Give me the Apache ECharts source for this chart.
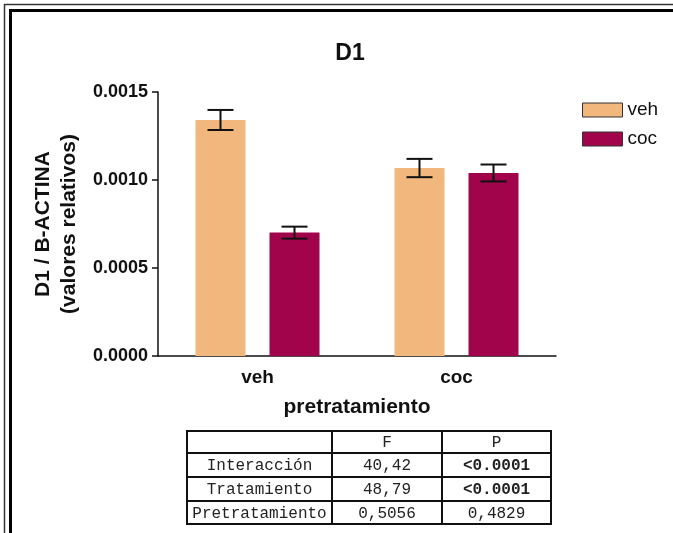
<!DOCTYPE html>
<html>
<head>
<meta charset="utf-8">
<script src="https://cdn.jsdelivr.net/npm/echarts@6/dist/echarts.min.js"></script>
<style>
  html, body { margin: 0; padding: 0; background: #fff; }
  #chart { width: 673px; height: 533px; }
</style>
</head>
<body>
<div id="chart"></div>
<script>
// Pretreatment groups on the x axis
const categories = ['veh', 'coc'];
// D1 / B-ACTINA relative expression (mean) and SEM per treatment
const vehMean = [0.001341, 0.001068];
const vehSem  = [0.000057, 0.000052];
const cocMean = [0.000701, 0.001040];
const cocSem  = [0.000034, 0.000048];
// y axis ticks
const yTicks = [0.0000, 0.0005, 0.0010, 0.0015];
// Two-way ANOVA summary table
const tableHeader = ['', 'F', 'P'];
const tableRows = ['Interacción', 'Tratamiento', 'Pretratamiento'];
const tableF = ['40,42', '48,79', '0,5056'];
const tableP = ['<0.0001', '<0.0001', '0,4829'];
const tablePBold = [true, true, false];

const colVeh = '#F1B77C';
const colCoc = '#A1044B';
const font = '"Liberation Sans", Arial, sans-serif';
const mono = '"Liberation Mono", "Courier New", monospace';

// bar layout (fractions of the category band)
const barWidthFrac = 0.2513;
const barGapFrac = 0.48;
const halfPair = barWidthFrac * (1 + barGapFrac) / 2;

function errorSeries(name, means, sems, sign) {
  return {
    name: name,
    type: 'custom',
    z: 10,
    silent: true,
    data: means.map((m, i) => [i, m, sems[i]]),
    renderItem: function (params, api) {
      const idx = api.value(0);
      const m = api.value(1);
      const s = api.value(2);
      const band = api.size([1, 0])[0];
      const dx = sign * halfPair * band;
      const top = api.coord([idx, m + s]);
      const bot = api.coord([idx, m - s]);
      const x = top[0] + dx;
      const cap = band * barWidthFrac * 0.26;
      const style = { stroke: '#111', lineWidth: 2 };
      return {
        type: 'group',
        children: [
          { type: 'line', shape: { x1: x, y1: top[1], x2: x, y2: bot[1] }, style: style },
          { type: 'line', shape: { x1: x - cap, y1: top[1], x2: x + cap, y2: top[1] }, style: style },
          { type: 'line', shape: { x1: x - cap, y1: bot[1], x2: x + cap, y2: bot[1] }, style: style }
        ]
      };
    }
  };
}

// ANOVA table drawn as graphic elements
const colX = [187, 332, 442, 551];
const rowY = [431, 453, 477, 501, 524];
const tableGraphics = [];
tableGraphics.push({
  type: 'rect', shape: { x: colX[0], y: rowY[0], width: colX[3] - colX[0], height: rowY[4] - rowY[0] },
  style: { fill: 'none', stroke: '#111', lineWidth: 2 }
});
for (let i = 1; i < 3; i++) {
  tableGraphics.push({ type: 'line', shape: { x1: colX[i], y1: rowY[0], x2: colX[i], y2: rowY[4] },
    style: { stroke: '#111', lineWidth: 2 } });
}
for (let j = 1; j < 4; j++) {
  tableGraphics.push({ type: 'line', shape: { x1: colX[0], y1: rowY[j], x2: colX[3], y2: rowY[j] },
    style: { stroke: '#111', lineWidth: 2 } });
}
function cellText(text, c, r, bold) {
  return {
    type: 'text',
    style: {
      text: text,
      x: (colX[c] + colX[c + 1]) / 2,
      y: (rowY[r] + rowY[r + 1]) / 2 + 1,
      textAlign: 'center', textVerticalAlign: 'middle',
      font: (bold ? 'bold ' : '') + '16px ' + mono,
      fill: '#222'
    }
  };
}
tableHeader.forEach((h, c) => { if (h) tableGraphics.push(cellText(h, c, 0, false)); });
tableRows.forEach((name, r) => {
  tableGraphics.push(cellText(name, 0, r + 1, false));
  tableGraphics.push(cellText(tableF[r], 1, r + 1, false));
  tableGraphics.push(cellText(tableP[r], 2, r + 1, tablePBold[r]));
});

// double frame around the figure
const frameGraphics = [
  { type: 'polyline', shape: { points: [[4.5, 533], [4.5, 4.5], [673, 4.5]] },
    style: { fill: 'none', stroke: '#333', lineWidth: 1.5 } },
  { type: 'polyline', shape: { points: [[10.5, 533], [10.5, 10.5], [673, 10.5]] },
    style: { fill: 'none', stroke: '#000', lineWidth: 3 } }
];

const chart = echarts.init(document.getElementById('chart'), null, { renderer: 'canvas' });
chart.setOption({
  backgroundColor: '#fff',
  animation: false,
  title: {
    text: 'D1',
    left: 345, top: 37, textAlign: 'center',
    textStyle: { fontFamily: font, fontSize: 23, fontWeight: 'bold', color: '#111' }
  },
  legend: {
    data: ['veh', 'coc'],
    orient: 'vertical',
    left: 582, top: 100.5,
    padding: 0,
    itemWidth: 40, itemHeight: 14, itemGap: 10,
    icon: 'rect',
    itemStyle: { borderColor: '#333', borderWidth: 1 },
    textStyle: { fontFamily: font, fontSize: 19, lineHeight: 19, color: '#111' },
    selectedMode: false
  },
  grid: { left: 158, top: 92, width: 398, height: 264, containLabel: false },
  xAxis: {
    type: 'category',
    data: categories,
    name: 'pretratamiento',
    nameLocation: 'middle',
    nameGap: 41,
    nameTextStyle: { fontFamily: font, fontSize: 21, fontWeight: 'bold', color: '#111' },
    axisLine: { lineStyle: { color: '#111', width: 1.5 } },
    axisTick: { alignWithLabel: true, length: 7, lineStyle: { color: '#111', width: 1.5 } },
    axisLabel: { margin: 12, fontFamily: font, fontSize: 19, fontWeight: 'bold', color: '#111' }
  },
  yAxis: {
    type: 'value',
    min: yTicks[0], max: yTicks[yTicks.length - 1], interval: 0.0005,
    name: 'D1 / B-ACTINA\n(valores relativos)',
    nameLocation: 'middle',
    nameRotate: 90,
    nameGap: 75,
    nameTextStyle: { fontFamily: font, fontSize: 21, fontWeight: 'bold', color: '#111', lineHeight: 26 },
    splitLine: { show: false },
    axisLine: { show: true, lineStyle: { color: '#111', width: 1.5 } },
    axisTick: { show: true, length: 6, lineStyle: { color: '#111', width: 1.5 } },
    axisLabel: {
      margin: 10, fontFamily: font, fontSize: 18, fontWeight: 'bold', color: '#111',
      formatter: v => v.toFixed(4)
    }
  },
  series: [
    { name: 'veh', type: 'bar', data: vehMean, barWidth: (barWidthFrac * 100) + '%', barGap: (barGapFrac * 100) + '%',
      itemStyle: { color: colVeh } },
    { name: 'coc', type: 'bar', data: cocMean, barWidth: (barWidthFrac * 100) + '%', barGap: (barGapFrac * 100) + '%',
      itemStyle: { color: colCoc } },
    errorSeries('veh SEM', vehMean, vehSem, -1),
    errorSeries('coc SEM', cocMean, cocSem, 1)
  ],
  graphic: frameGraphics.concat(tableGraphics)
});
</script>
</body>
</html>
